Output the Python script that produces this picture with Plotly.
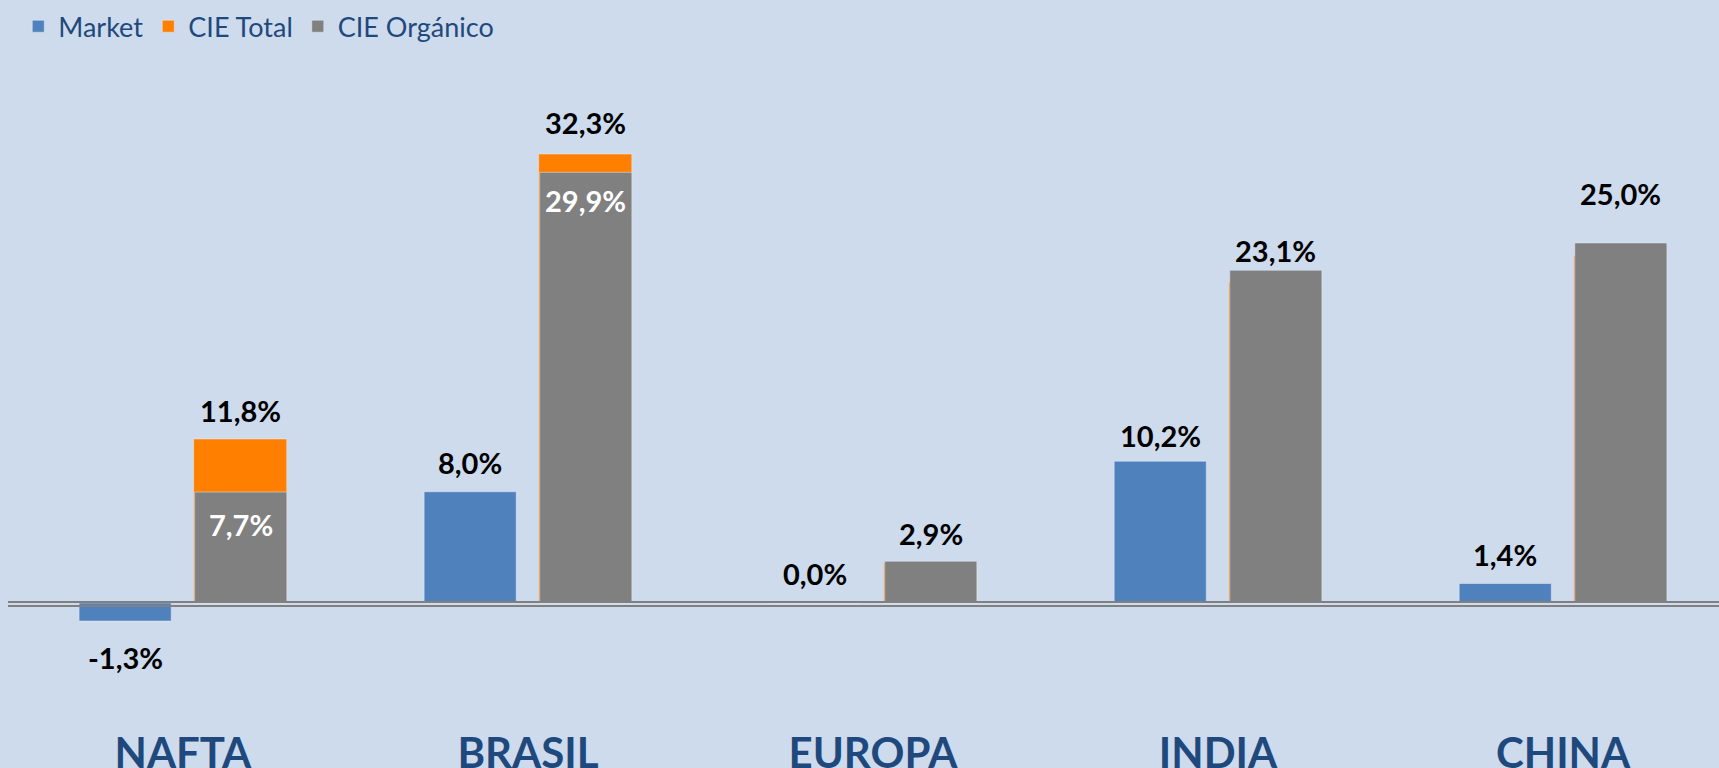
import plotly.graph_objects as go

# data (growth %, comma decimal in labels)
regions = ["NAFTA", "BRASIL", "EUROPA", "INDIA", "CHINA"]
market = [-1.3, 8.0, 0.0, 10.2, 1.4]
cie_total = [11.8, 32.3, 2.9, 23.1, 25.0]
cie_organico = [7.7, 29.9, 2.9, 23.1, 25.0]
# which bars carry an inside (white) label for CIE Orgánico
organico_inside = [True, True, False, False, False]

BG = "#CDDBED"
BLUE = "#4F81BD"
ORANGE = "#FF8000"
GREY = "#808080"
NAVY = "#1F497D"
FONT = "Lato"


def pct(v):
    return f"{v:.1f}".replace(".", ",") + "%"


fig = go.Figure()
fig.add_trace(go.Bar(x=regions, y=market, name="Market", marker_color=BLUE,
                     width=0.267, offset=-0.301, yaxis="y"))
fig.add_trace(go.Bar(x=regions, y=cie_total, name="CIE Total", marker_color=ORANGE,
                     width=0.27, offset=0.031, yaxis="y"))
fig.add_trace(go.Bar(x=regions, y=cie_organico, name="CIE Orgánico", marker_color=GREY,
                     width=0.267, offset=0.034, yaxis="y2"))

# small hand nudges (px) for labels the original placed by hand
top_nudge = {1: 4, 3: -8, 4: 21}

annotations = []
lbl_font = dict(family=FONT, size=29, color="black")
for i, r in enumerate(regions):
    m = market[i]
    annotations.append(dict(x=i - 0.167, y=m, xref="x", yref="y", text="<b>%s</b>" % pct(m),
                            showarrow=False, font=lbl_font,
                            yshift=-36 if m < 0 else (26 if i == 3 else 29)))
    nudge = top_nudge.get(i, 0)
    if organico_inside[i]:
        annotations.append(dict(x=i + 0.167, y=cie_total[i], xref="x", yref="y",
                                text="<b>%s</b>" % pct(cie_total[i]),
                                showarrow=False, font=lbl_font, yshift=28 + nudge))
        annotations.append(dict(x=i + 0.167, y=cie_organico[i], xref="x", yref="y2",
                                text="<b>%s</b>" % pct(cie_organico[i]),
                                showarrow=False, font=dict(family=FONT, size=29, color="white"),
                                yshift=-32 + nudge))
    else:
        annotations.append(dict(x=i + 0.167, y=cie_organico[i], xref="x", yref="y2",
                                text="<b>%s</b>" % pct(cie_organico[i]),
                                showarrow=False, font=lbl_font, yshift=28 + nudge))

# double zero line
shapes = []
for py in (1, -3):
    shapes.append(dict(type="line", xref="paper", x0=0, x1=1, yref="y", yanchor=0,
                       ysizemode="pixel", y0=py, y1=py, layer="above",
                       line=dict(color=GREY, width=2)))

fig.update_layout(
    width=1719, height=768,
    paper_bgcolor=BG, plot_bgcolor=BG,
    barmode="overlay",
    margin=dict(l=8, r=0, t=0, b=48, autoexpand=False),
    font=dict(family=FONT, color=NAVY),
    showlegend=True,
    legend=dict(orientation="h", x=0.006, y=0.997, xanchor="left", yanchor="top",
                font=dict(family=FONT, size=27, color=NAVY), bgcolor="rgba(0,0,0,0)",
                itemwidth=30),
    xaxis=dict(range=[-0.507, 4.452], showgrid=False, zeroline=False, showline=False,
               automargin=False,
               ticks="", tickfont=dict(family=FONT, size=42, color=NAVY),
               tickprefix="<b>", ticksuffix="</b>", ticklabelstandoff=5),
    yaxis=dict(range=[-8.42, 43.38], visible=False, showgrid=False, zeroline=False),
    yaxis2=dict(range=[-8.13, 41.87], overlaying="y", visible=False, showgrid=False,
                zeroline=False),
    annotations=annotations,
    shapes=shapes,
)

# drop the default page margin so the figure sits at the window's corner
fig.write_html("out.html", config={"displayModeBar": False},
               post_script="document.body.style.margin='0';")
